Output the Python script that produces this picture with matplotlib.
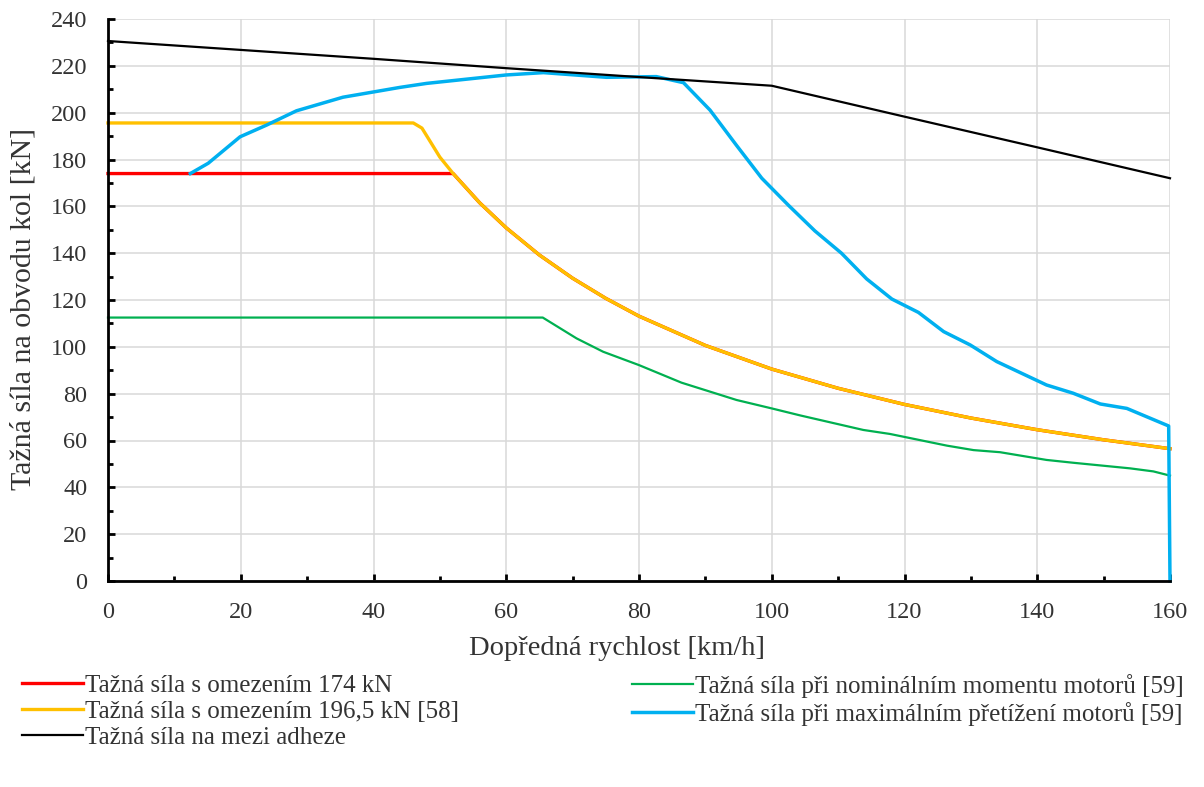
import numpy as np
import matplotlib
matplotlib.use('Agg')
import matplotlib.pyplot as plt
from matplotlib.ticker import MultipleLocator

#---DATA----------------------------------------------------------------------------------

#Adhesion limit
v_adh = [0, 20, 40, 60, 80, 100, 120, 140, 160]
F_adh = [230.6, 226.8, 223.0, 219.0, 215.2, 211.5, 198.3, 185.2, 172.0]

#Limit 174 kN (flat, then hidden under the 196,5 kN curve)
v_174 = [0, 52, 56, 60, 65, 70, 75, 80, 90, 100, 110, 120, 130, 140, 150, 160]
F_174 = [174, 174, 161.5, 150.8, 139.2, 129.3, 120.7, 113.1, 100.6, 90.5, 82.3, 75.4, 69.6, 64.6, 60.3, 56.5]

#Limit 196,5 kN
v_196 = [0, 46, 47.3, 50, 52, 56, 60, 65, 70, 75, 80, 90, 100, 110, 120, 130, 140, 150, 160]
F_196 = [195.6, 195.6, 193.4, 181.0, 174.0, 161.5, 150.8, 139.2, 129.3, 120.7, 113.1, 100.6, 90.5, 82.3, 75.4, 69.6, 64.6, 60.3, 56.5]

#Nominal motor torque
v_nom = [0, 65.5, 70.6, 74.6, 80, 86.4, 94.7, 100, 104.3, 113.8, 117.8, 126.4, 130.4, 134.4, 141.4, 145.4, 154, 157.5, 160]
F_nom = [112.5, 112.5, 103.6, 97.9, 92.2, 84.7, 77.3, 73.7, 70.7, 64.5, 62.8, 57.8, 55.9, 55.0, 51.7, 50.5, 48.1, 46.8, 45.0]

#Maximum motor overload
v_max = [12.4, 15.1, 19.9, 23.9, 28.4, 35.4, 44, 48, 60, 65.6, 75.1, 82.6, 86.7, 90.7, 94.7, 98.5, 102.5,
         106.5, 110.5, 114.3, 118.1, 122.1, 125.9, 129.9, 133.9, 141.4, 145.4, 149.5, 153.5, 159.8, 160]
F_max = [174.0, 178.4, 189.7, 194.7, 200.8, 206.6, 210.8, 212.5, 216.1, 217.1, 215.1, 215.4, 212.8, 201.1, 186.0, 172.0, 160.5,
         149.5, 140.0, 129.0, 120.4, 114.7, 106.5, 100.8, 93.7, 83.7, 80.2, 75.6, 73.7, 66.2, 0]

labels = ['Tažná síla s omezením 174 kN',
          'Tažná síla s omezením 196,5 kN [58]',
          'Tažná síla na mezi adheze',
          'Tažná síla při nominálním momentu motorů [59]',
          'Tažná síla při maximálním přetížení motorů [59]']

#---PLOT------------------------------------------------------------------------------------

plt.rcParams['font.family'] = ['Liberation Serif', 'DejaVu Serif']
txt = '#333333'

fig = plt.figure(figsize=(12.04, 7.87), dpi=100)
ax = fig.add_axes([108/1204, 1-581/787, 1062/1204, 562/787])

l_red, = ax.plot(v_174, F_174, color='#FF0000', lw=2.4, label=labels[0], clip_on=False)
l_yel, = ax.plot(v_196, F_196, color='#FFC000', lw=2.4, label=labels[1], clip_on=False)
l_grn, = ax.plot(v_nom, F_nom, color='#00B050', lw=1.6, label=labels[3], clip_on=False)
l_blu, = ax.plot(v_max, F_max, color='#00B0F0', lw=2.5, label=labels[4], clip_on=False)
l_blk, = ax.plot(v_adh, F_adh, color='black', lw=1.6, label=labels[2], clip_on=False)

ax.set_xlim(0, 160)
ax.set_ylim(0, 240)
ax.xaxis.set_major_locator(MultipleLocator(20))
ax.xaxis.set_minor_locator(MultipleLocator(10))
ax.yaxis.set_major_locator(MultipleLocator(20))
ax.yaxis.set_minor_locator(MultipleLocator(10))
ax.grid(True, which='major', color='#d9d9d9', lw=1.1, zorder=0)
ax.set_axisbelow(True)

for s in ['top', 'right']:
  ax.spines[s].set_visible(False)
for s in ['left', 'bottom']:
  ax.spines[s].set_linewidth(2)
  ax.spines[s].set_color('black')

ax.tick_params(which='major', direction='in', length=5, width=2, labelsize=17.5, labelcolor=txt, pad=15)
ax.tick_params(which='minor', direction='in', length=3.5, width=2)

ax.set_xlabel('Dopředná rychlost [km/h]', fontsize=20.5, color=txt)
ax.set_ylabel('Tažná síla na obvodu kol [kN]', fontsize=21.5, color=txt)
ax.xaxis.set_label_coords(0.479, -0.097)
ax.yaxis.set_label_coords(-0.067, 0.484)

#Legend in two blocks below the axes
kw = dict(frameon=False, fontsize=18, labelcolor=txt, handlelength=2.45, handletextpad=0.08,
          labelspacing=0.15, borderaxespad=0, borderpad=0)
fig.legend(handles=[l_red, l_yel, l_blk], loc='upper left', bbox_to_anchor=(22/1204, 1-674/787), **kw)
fig.legend(handles=[l_grn, l_blu], loc='upper left', bbox_to_anchor=(632/1204, 1-674/787), **kw)

fig.savefig('out.png', dpi=100)
